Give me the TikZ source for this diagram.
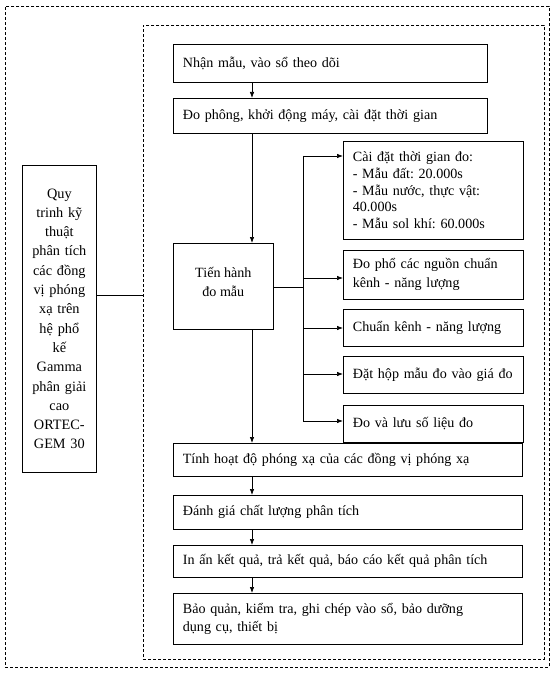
\documentclass[tikz,border=0pt]{standalone}
\usepackage{fontspec}
\setmainfont{Liberation Serif}
\usetikzlibrary{arrows.meta,calc}
\frenchspacing
\begin{document}
\begin{tikzpicture}[x=1pt,y=-1pt,
  box/.style={draw,line width=0.7pt,rectangle,anchor=north west,inner sep=0pt,
    font=\fontsize{14.1}{19}\selectfont},
  lbox/.style={box,align=left,text width=#1-19pt,inner xsep=9.5pt},
  cbox/.style={box,align=center},
  dbox/.style={draw,line width=0.8pt,dash pattern=on 3pt off 2pt,rectangle,anchor=north west,inner sep=0pt},
  arr/.style={line width=0.7pt,-{Latex[length=6pt,width=4.5pt]}},
  ln/.style={line width=0.7pt}]
\useasboundingbox (0,0) rectangle (553,676);
% dashed frames
\node[dbox,minimum width=544pt,minimum height=661pt] (outer) at (5,6) {};
\node[dbox,minimum width=401pt,minimum height=634pt] (inner) at (143,25) {};
% left box
\node[cbox,text width=74pt,minimum height=307pt,font=\fontsize{14.3}{19.3}\selectfont] (L) at (22,165)
  {Quy\\trinh kỹ\\thuật\\phân tích\\các đồng\\vị phóng\\xạ trên\\hệ phổ\\kế\\Gamma\\phân giải\\cao\\ORTEC-\\GEM 30};
% main column
\node[lbox=314pt,minimum height=38pt] (n1) at (173,44) {Nhận mẫu, vào sổ theo dõi};
\node[lbox=314pt,minimum height=35pt] (n2) at (173,98) {Đo phông, khởi động máy, cài đặt thời gian};
\node[box,minimum width=100pt,minimum height=86pt] (tien) at (173,243)
  {\raisebox{0pt}[\height][\dimexpr\depth+8pt\relax]{\parbox{98pt}{\centering Tiến hành\\đo mẫu}}};
% right boxes
\node[lbox=180pt,minimum height=98pt,font=\fontsize{14.1}{16.7}\selectfont] (A) at (343,141)
  {Cài đặt thời gian đo:\\- Mẫu đất: 20.000s\\- Mẫu nước, thực vật:\\40.000s\\- Mẫu sol khí: 60.000s};
\node[lbox=180pt,minimum height=49pt] (B) at (343,250) {Đo phổ các nguồn chuẩn\\kênh - năng lượng};
\node[lbox=180pt,minimum height=37pt] (C) at (343,309) {Chuẩn kênh - năng lượng};
\node[lbox=180pt,minimum height=37pt] (D) at (343,356) {\mbox{Đặt hộp mẫu đo vào giá đo}};
\node[lbox=180pt,minimum height=37pt] (E) at (343,405) {Đo và lưu số liệu đo};
% lower column
\node[lbox=349pt,minimum height=33pt] (tinh) at (173,443) {Tính hoạt độ phóng xạ của các đồng vị phóng xạ};
\node[lbox=349pt,minimum height=34pt] (danh) at (173,495) {Đánh giá chất lượng phân tích};
\node[lbox=349pt,minimum height=32pt] (inan) at (173,545) {In ấn kết quả, trả kết quả, báo cáo kết quả phân tích};
\node[lbox=349pt,minimum height=51pt,font=\fontsize{14.1}{18}\selectfont] (bq) at (173,593)
  {Bảo quản, kiểm tra, ghi chép vào sổ, bảo dưỡng\\dụng cụ, thiết bị};
% coordinates
\coordinate (ax) at (252,0);
\coordinate (bx) at (303,0);
\coordinate (lj) at (97,295);
\coordinate (tj) at (273,287);
\coordinate (ya) at (0,156);
\coordinate (yb) at (0,278);
\coordinate (yc) at (0,328);
\coordinate (yd) at (0,374);
\coordinate (ye) at (0,421);
% connectors
\draw[ln] (lj) -- (lj -| inner.west);
\draw[arr] (n1.south -| ax) -- (n2.north -| ax);
\draw[arr] (n2.south -| ax) -- (tien.north -| ax);
\draw[arr] (tien.south -| ax) -- (tinh.north -| ax);
\draw[arr] (tinh.south -| ax) -- (danh.north -| ax);
\draw[arr] (danh.south -| ax) -- (inan.north -| ax);
\draw[arr] (inan.south -| ax) -- (bq.north -| ax);
\draw[ln] (tj -| tien.east) -- (tj -| bx);
\draw[ln] (bx |- ya) -- (bx |- ye);
\draw[arr] (bx |- ya) -- (ya -| A.west);
\draw[arr] (bx |- yb) -- (yb -| B.west);
\draw[arr] (bx |- yc) -- (yc -| C.west);
\draw[arr] (bx |- yd) -- (yd -| D.west);
\draw[arr] (bx |- ye) -- (ye -| E.west);
\end{tikzpicture}
\end{document}
